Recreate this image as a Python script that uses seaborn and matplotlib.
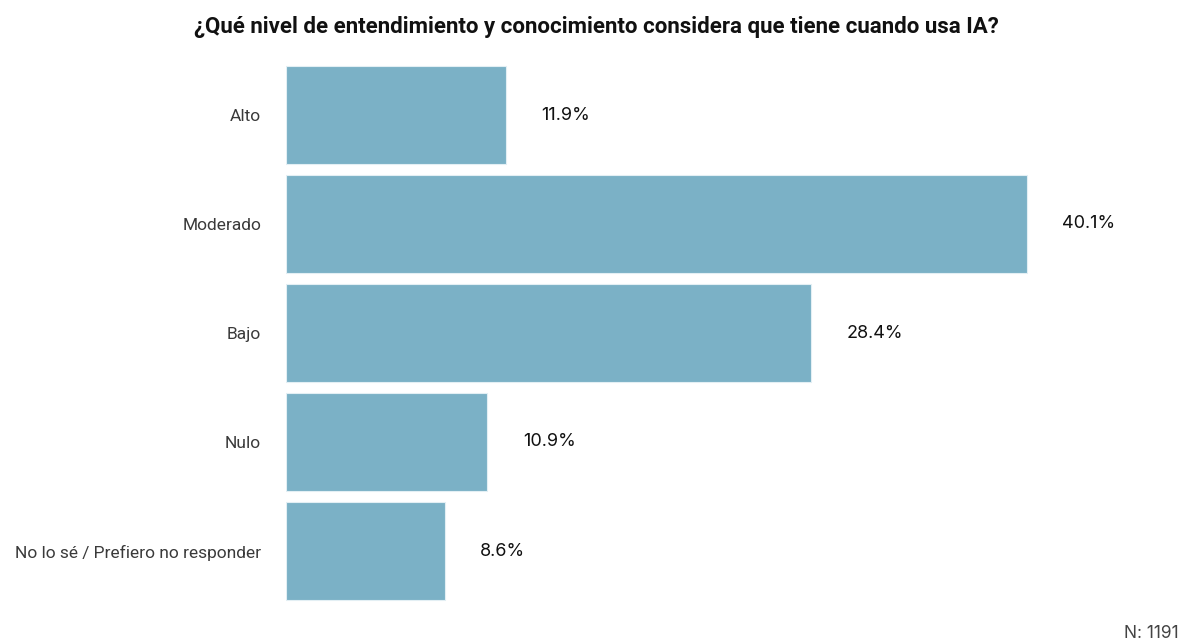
import matplotlib
matplotlib.use("Agg")
import matplotlib.pyplot as plt
import seaborn as sns
import pandas as pd

# datos de la encuesta
categorias = ["Alto", "Moderado", "Bajo", "Nulo", "No lo sé / Prefiero no responder"]
porcentajes = [11.9, 40.1, 28.4, 10.9, 8.6]
titulo = "¿Qué nivel de entendimiento y conocimiento considera que tiene cuando usa IA?"
nota = "N: 1191"

df = pd.DataFrame({"categoria": categorias, "pct": porcentajes})

sns.set_theme(style="white")
plt.rcParams["font.family"] = ["Roboto", "DejaVu Sans"]

fig = plt.figure(figsize=(11.81, 6.42), dpi=100)
ax = fig.add_axes([286 / 1181, (642 - 605.5) / 642, (1170 - 286) / 1181, 545 / 642])

sns.barplot(data=df, x="pct", y="categoria", color="#7BB1C6", saturation=1,
            width=0.9, edgecolor="#E3EFF4", linewidth=0.8, ax=ax)

ax.set_xlim(0, (1170 - 286) / 18.48)
ax.set_ylim(4.5, -0.5)

for i, v in enumerate(porcentajes):
    ax.annotate(f"{v}%", xy=(v, i), xytext=(25.5, 0), textcoords="offset points",
                va="center", ha="left", fontsize=13, color="#111111", family=["Inter", "DejaVu Sans"])

ax.set_xlabel("")
ax.set_ylabel("")
ax.set_xticks([])
ax.tick_params(axis="y", length=0, pad=18, labelsize=12.5, labelcolor="#3a3a3a")
sns.despine(ax=ax, left=True, bottom=True)

fig.text(596 / 1181, 1 - 27 / 642, titulo, ha="center", va="center",
         fontsize=16, fontweight="bold", color="#111111")
fig.text(1179 / 1181, 1 - 634 / 642, nota, ha="right", va="center",
         fontsize=12.5, color="#444444", family=["Inter", "DejaVu Sans"])

fig.savefig("out.png", dpi=100)
